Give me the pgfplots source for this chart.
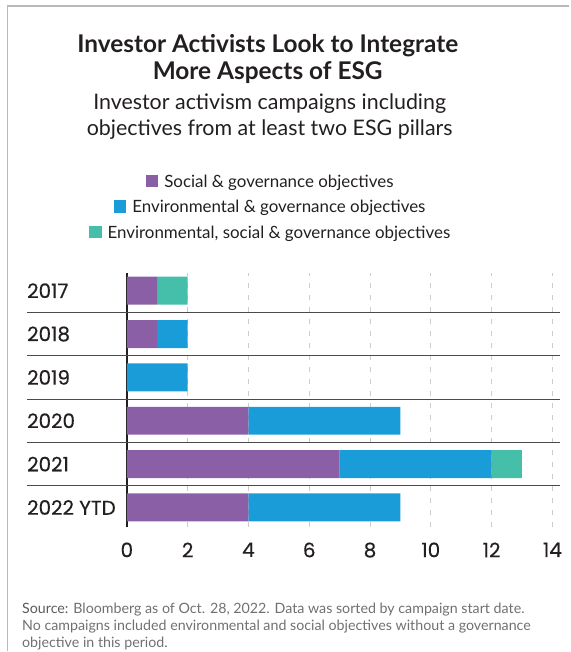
\documentclass[border=0pt]{standalone}
\usepackage{pgfplots}
\pgfplotsset{compat=1.18}
\usepackage{fontspec}
\setmainfont{Lato}
\newfontfamily\pop[FakeBold=0.4]{Poppins}
\definecolor{cS}{HTML}{8A5FA5}
\definecolor{cE}{HTML}{1A9CD8}
\definecolor{cG}{HTML}{45BFAA}
\definecolor{ink}{HTML}{231F20}
\definecolor{src}{HTML}{707070}
\definecolor{sep}{HTML}{4A4A4A}
\begin{document}
\begin{tikzpicture}
\begin{scope}[shift={(-127bp,-124bp)}, x=1bp, y=1bp]
\path (0,0) rectangle (570,652);
\draw[color=gray!55, line width=1.5bp] (7.5,0) -- (7.5,646) -- (570,646);
% titles
\node[anchor=base, font=\fontsize{24.5}{28}\selectfont\bfseries, text=ink, inner sep=0] at (268,599) {Investor Activists Look to Integrate};
\node[anchor=base, font=\fontsize{24.5}{28}\selectfont\bfseries, text=ink, inner sep=0] at (268,572) {More Aspects of ESG};
\node[anchor=base, font=\fontsize{21.5}{24}\selectfont, text=ink, inner sep=0] at (270,542) {Investor activism campaigns including};
\node[anchor=base, font=\fontsize{21.5}{24}\selectfont, text=ink, inner sep=0] at (270,516) {objectives from at least two ESG pillars};
% source
\node[anchor=base west, font=\fontsize{14.3}{17}\selectfont, text=src, inner sep=0] at (22,38) {\textcolor{src!80!black}{Source:} Bloomberg as of Oct. 28, 2022. Data was sorted by campaign start date.};
\node[overlay, anchor=base west, font=\fontsize{14.3}{17}\selectfont, text=src, inner sep=0] at (22,21) {No campaigns included environmental and social objectives without a governance};
\node[anchor=base west, font=\fontsize{14.3}{17}\selectfont, text=src, inner sep=0] at (22,4) {objective in this period.};
\end{scope}
\begin{axis}[
  anchor=south west,
  scale only axis, width=426bp, height=255bp,
  xbar stacked, bar width=28bp,
  xmin=0, xmax=14, ymin=-0.46, ymax=5.415,
  xtick={0,2,...,14},
  ytick={0,1,2,3,4,5},
  yticklabels={2022 YTD,2021,2020,2019,2018,2017},
  major tick length=0pt,
  axis y line*=left, axis x line*=bottom,
  x axis line style={draw=none},
  y axis line style={draw=ink, line width=1.5bp},
  xmajorgrids,
  major grid style={color=gray!40, line width=0.8bp, dash pattern=on 5bp off 7bp},
  /pgf/number format/assume math mode=true,
  xticklabel style={font=\pop\fontsize{20}{22}\selectfont, text=ink, inner sep=0pt, yshift=-15bp},
  yticklabel style={font=\pop\fontsize{20}{22}\selectfont, text=ink, inner sep=0pt, anchor=west, xshift=-100bp},
  clip=false,
  legend image code/.code={},
  legend cell align=center,
  legend style={at={(0.3357,1.2527)}, anchor=center, draw=none, fill=none,
     font=\fontsize{17}{19}\selectfont, text=ink, row sep=10bp,
     nodes={inner sep=0pt, text height=12bp, text depth=3.5bp}},
]
\addplot[fill=cS, draw=none] coordinates {(1,5) (1,4) (0,3) (4,2) (7,1) (4,0)};
\addlegendentry{\textcolor{cS}{\rule{12.5bp}{12.5bp}}\hspace{6bp}Social \& governance objectives}
\addplot[fill=cE, draw=none] coordinates {(0,5) (1,4) (2,3) (5,2) (5,1) (5,0)};
\addlegendentry{\textcolor{cE}{\rule{12.5bp}{12.5bp}}\hspace{6bp}Environmental \& governance objectives}
\addplot[fill=cG, draw=none] coordinates {(1,5) (0,4) (0,3) (0,2) (1,1) (0,0)};
\addlegendentry{\textcolor{cG}{\rule{12.5bp}{12.5bp}}\hspace{6bp}Environmental, social \& governance objectives}
\draw[color=sep, line width=1bp] (axis cs:-3.29,4.5) -- (axis cs:14.26,4.5);
\draw[color=sep, line width=1bp] (axis cs:-3.29,3.5) -- (axis cs:14.26,3.5);
\draw[color=sep, line width=1bp] (axis cs:-3.29,2.5) -- (axis cs:14.26,2.5);
\draw[color=sep, line width=1bp] (axis cs:-3.29,1.5) -- (axis cs:14.26,1.5);
\draw[color=sep, line width=1bp] (axis cs:-3.29,0.5) -- (axis cs:14.26,0.5);
\end{axis}
\end{tikzpicture}
\end{document}
